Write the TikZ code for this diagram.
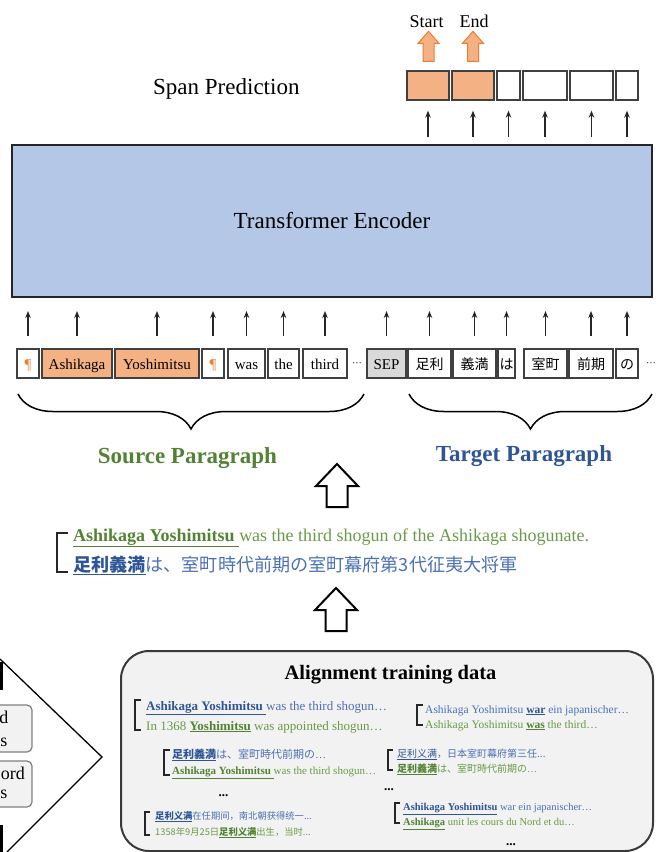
\documentclass[tikz,border=0pt]{standalone}
\usepackage{fontspec}
\setmainfont{Liberation Serif}
\newfontfamily\jpfont{Noto Sans CJK JP}
\newfontfamily\scfont{Noto Sans CJK SC}
\usetikzlibrary{arrows.meta,decorations.pathreplacing,calc}
\definecolor{tokorange}{HTML}{F4B183}
\definecolor{darkorange}{HTML}{ED7D31}
\definecolor{tokline}{HTML}{404040}
\definecolor{arrcol}{HTML}{262626}
\definecolor{encfill}{HTML}{B4C7E7}
\definecolor{sepgray}{HTML}{D9D9D9}
\definecolor{srcgreen}{HTML}{548235}
\definecolor{srclight}{HTML}{6A9A48}
\definecolor{tgtblue}{HTML}{2F5597}
\definecolor{tgtlight}{HTML}{4C70B4}
\definecolor{panelfill}{HTML}{F2F2F2}
\definecolor{panelline}{HTML}{3A3A3A}
\definecolor{grayline}{HTML}{7F7F7F}
\newcommand\setfs[1]{\fontsize{#1}{#1}\selectfont}
\newcommand\ulb[1]{\underline{\textbf{#1}}}
\newcommand\ulg[1]{\textcolor{srcgreen}{\ulb{#1}}}
\newcommand\ulbl[1]{\textcolor{tgtblue}{\ulb{#1}}}
\tikzset{
  tok/.style={draw=tokline, line width=1.3pt, fill=white, minimum height=29pt, inner sep=0pt,
    text height=14pt, text depth=3pt, font=\setfs{15}},
  jtok/.style={tok, font=\jpfont\setfs{14}},
  outbox/.style={draw=tokline, line width=1.3pt, fill=white, minimum height=29pt, inner sep=0pt},
  arr/.style={draw=arrcol, line width=1.2pt, -{Stealth[length=7pt,width=5.5pt]}},
  bracedeco/.style={decorate, decoration={brace, mirror, amplitude=35pt}, line width=1.5pt},
  brk/.style={draw=black!85, line width=1.2pt},
  txt/.style={anchor=base west, inner sep=0pt},
  dotsnode/.style={anchor=base, inner sep=0pt, font=\bfseries\setfs{13}},
  smallup/.pic={\path[pic actions] (0,0) -- (10.5,12) -- (5.5,12) -- (5.5,30) -- (-5.5,30) -- (-5.5,12) -- (-10.5,12) -- cycle;},
  bigup/.pic={\path[pic actions] (0,0) -- (21,22) -- (10.5,22) -- (10.5,43) -- (-10.5,43) -- (-10.5,22) -- (-21,22) -- cycle;},
}
\begin{document}
\begin{tikzpicture}[x=1pt,y=-1pt]
\useasboundingbox (0,0) rectangle (657,852);
\clip (0,0) rectangle (657,852);

% ---------- top: span prediction ----------
\node[anchor=base west, inner sep=0pt, font=\setfs{23}] (sp) at (153,94) {Span Prediction};

\node[outbox, fill=tokorange, minimum width=42pt] (o1) at (428,85.5) {};
\node[outbox, fill=tokorange, minimum width=42pt] (o2) at (473,85.5) {};
\node[outbox, minimum width=23pt] (o3) at (508.5,85.5) {};
\node[outbox, minimum width=44pt] (o4) at (545,85.5) {};
\node[outbox, minimum width=43pt] (o5) at (591.5,85.5) {};
\node[outbox, minimum width=22pt] (o6) at (627,85.5) {};

\pic[draw=darkorange, fill=tokorange, line width=1pt] at ($(o1.north)+(0.5,-39)$) {smallup};
\pic[draw=darkorange, fill=tokorange, line width=1pt] at ($(o2.north)+(0,-39)$) {smallup};
\node[anchor=base, inner sep=0pt, font=\setfs{18}] (start) at (426.5,27) {Start};
\node[anchor=base, inner sep=0pt, font=\setfs{18}] (end) at (474,27) {End};

% ---------- encoder ----------
\node[draw=arrcol, fill=encfill, line width=2pt, minimum width=640pt, minimum height=152pt,
  inner sep=0pt, font=\setfs{23}] (enc) at (332,221) {Transformer Encoder};

\foreach \o in {o1,o2,o3,o4,o5,o6}
  \draw[arr, shorten <=7pt, shorten >=10pt] (\o.south |- enc.north) -- (\o.south);

% ---------- tokens ----------
\node[tok, minimum width=22pt, text=darkorange] (t1) at (28,363.5) {¶};
\node[tok, minimum width=70pt, fill=tokorange] (t2) at (77,363.5) {Ashikaga};
\node[tok, minimum width=84pt, fill=tokorange] (t3) at (157,363.5) {Yoshimitsu};
\node[tok, minimum width=22pt, text=darkorange] (t4) at (213,363.5) {¶};
\node[tok, minimum width=37pt] (t5) at (246.5,363.5) {was};
\node[tok, minimum width=31pt] (t6) at (283.5,363.5) {the};
\node[tok, minimum width=44pt] (t7) at (325,363.5) {third};
\node[anchor=base, inner sep=0pt, font=\setfs{10}] (dots1) at (357,366) {···};
\node[tok, minimum width=39pt, fill=sepgray] (t8) at (386.5,363.5) {SEP};
\node[jtok, minimum width=43pt] (t9) at (429.5,363.5) {足利};
\node[jtok, minimum width=43pt] (t10) at (474.5,363.5) {義満};
\node[jtok, minimum width=17pt] (t11) at (506.5,363.5) {は};
\node[jtok, minimum width=43pt] (t12) at (545.5,363.5) {室町};
\node[jtok, minimum width=44pt] (t13) at (591,363.5) {前期};
\node[jtok, minimum width=22pt] (t14) at (627,363.5) {の};
\node[anchor=base, inner sep=0pt, font=\setfs{10}] (dots2) at (651,366) {···};

\foreach \t in {t1,t2,t3,t4,t5,t6,t7,t8,t9,t10,t11,t12,t13,t14}
  \draw[arr, shorten <=12pt, shorten >=13pt] (\t.north) -- (\t.north |- enc.south);

% ---------- braces ----------
\draw[bracedeco] (18,394) -- (364,394);
\draw[bracedeco] (409,394) -- (652,394);
\node[anchor=base, inner sep=0pt, font=\bfseries\setfs{23}, text=srcgreen] (srcl) at (187.5,463) {Source Paragraph};
\node[anchor=base, inner sep=0pt, font=\bfseries\setfs{23}, text=tgtblue] (tgtl) at (524,461) {Target Paragraph};

% ---------- hollow arrows ----------
\pic[draw=black, fill=white, line width=2pt] at (337,464) {bigup};
\pic[draw=black, fill=white, line width=2pt] at (336,588) {bigup};

% ---------- example sentence pair ----------
\draw[line width=2pt, draw=black!85] (68,533) -- (57,533) -- (57,572) -- (68,572);
\node[txt, font=\setfs{18}, text=srclight] (m1) at (73,541)
  {\ulg{Ashikaga Yoshimitsu }was the third shogun of the Ashikaga shogunate.};
\node[txt, font=\jpfont\setfs{18.1}, text=tgtlight] (m2) at (73,571.5)
  {\ulbl{足利義満}は、室町時代前期の室町幕府第3代征夷大将軍};

% ---------- left partial shape ----------
\draw[line width=1.3pt] (0,659) -- (102,757) -- (7,852);
\draw[line width=2.7pt] (1.3,662) -- (1.3,690);
\draw[line width=2.7pt] (1.3,825) -- (1.3,852);
\node[draw=grayline, fill=panelfill, line width=1.2pt, rounded corners=5pt, minimum width=62pt,
  minimum height=47pt, inner sep=0pt] (gb1) at (1,728.5) {};
\node[draw=grayline, fill=panelfill, line width=1.2pt, rounded corners=5pt, minimum width=62pt,
  minimum height=46pt, inner sep=0pt] (gb2) at (1,784) {};
\node[anchor=base east, inner sep=0pt, font=\setfs{18}] (gb1a) at (8.5,723) {d};
\node[anchor=base east, inner sep=0pt, font=\setfs{18}] (gb1b) at (7.5,746) {s};
\node[anchor=base east, inner sep=0pt, font=\setfs{18}] (gb2a) at (25,779) {ord};
\node[anchor=base east, inner sep=0pt, font=\setfs{18}] (gb2b) at (7.5,798) {s};

% ---------- alignment training data panel ----------
\node[draw=panelline, fill=panelfill, line width=2pt, rounded corners=28pt, minimum width=532pt,
  minimum height=200pt, inner sep=0pt] (panel) at (387,751) {};
\node[anchor=base, inner sep=0pt, font=\bfseries\setfs{20.5}] (ttl) at (390.5,679) {Alignment training data};

% entry A
\draw[brk] (141,700) -- (135,700) -- (135,730) -- (141,730);
\node[txt, font=\setfs{13}, text=tgtlight] (a1) at (146,710) {\ulbl{Ashikaga Yoshimitsu }was the third shogun…};
\node[txt, font=\setfs{13}, text=srclight] (a2) at (146,730) {In 1368 \ulg{Yoshimitsu} was appointed shogun…};
% entry B
\draw[brk] (170,750) -- (164,750) -- (164,775) -- (170,775);
\node[txt, font=\jpfont\setfs{11}, text=tgtlight] (b1) at (172,758) {\ulbl{足利義満}は、室町時代前期の{\rmfamily …}};
\node[txt, font=\setfs{11}, text=srclight] (b2) at (172,774) {\ulg{Ashikaga Yoshimitsu }was the third shogun…};
\node[dotsnode] (dotsb) at (223.5,796) {...};
% entry C
\draw[brk] (150,812) -- (145,812) -- (145,835) -- (150,835);
\node[txt, font=\scfont\setfs{9.3}, text=tgtlight] (c1) at (155,819) {\ulbl{足利义满}在任期间，南北朝获得统一...};
\node[txt, font=\scfont\setfs{9.3}, text=srclight] (c2) at (155,835) {1358年9月25日\ulg{足利义满}出生，当时...};
% entry D
\draw[brk] (423,705) -- (417,705) -- (417,725) -- (423,725);
\node[txt, font=\setfs{11.5}, text=tgtlight] (d1) at (425,713) {Ashikaga Yoshimitsu \ulbl{war} ein japanischer…};
\node[txt, font=\setfs{11.5}, text=srclight] (d2) at (425,728) {Ashikaga Yoshimitsu \ulg{was} the third…};
% entry E
\draw[brk] (393,750) -- (388,750) -- (388,770) -- (393,770);
\node[txt, font=\scfont\setfs{10}, text=tgtlight] (e1) at (397,757) {\textcolor{tgtblue}{\underline{足利义满}}，日本室町幕府第三任...};
\node[txt, font=\jpfont\setfs{10}, text=srclight] (e2) at (397,772) {\ulg{足利義満}は、室町時代前期の{\rmfamily …}};
\node[dotsnode] (dotse) at (389,790) {...};
% entry F
\draw[brk] (400,803) -- (395,803) -- (395,823) -- (400,823);
\node[txt, font=\setfs{10.5}, text=tgtlight] (f1) at (403,810) {\ulbl{Ashikaga Yoshimitsu} war ein japanischer…};
\node[txt, font=\setfs{10.5}, text=srclight] (f2) at (403,825) {\ulg{Ashikaga} unit les cours du Nord et du…};
\node[dotsnode] (dotsf) at (511,845) {...};
\end{tikzpicture}
\end{document}
